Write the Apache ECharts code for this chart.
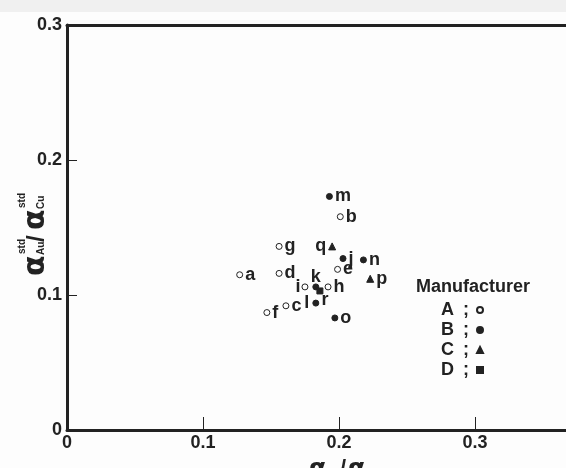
<!DOCTYPE html>
<html>
<head>
<meta charset="utf-8">
<script src="https://cdn.jsdelivr.net/npm/echarts@6/dist/echarts.min.js"></script>
<style>html,body{margin:0;padding:0;background:#fdfdfd;}#c{width:566px;height:468px;}</style>
</head>
<body>
<div id="c"></div>
<script>
// ---- data ----
const xTicks = [0, 0.1, 0.2, 0.3];
const yTicks = [0, 0.1, 0.2, 0.3];
const xMax = 0.367;   // right edge of the visible (cropped) x range
const manufacturers = ['A', 'B', 'C', 'D'];

const namesA = ['a', 'b', 'c', 'd', 'e', 'f', 'g', 'h', 'i'];
const xA = [0.127, 0.201, 0.161, 0.156, 0.199, 0.147, 0.156, 0.192, 0.175];
const yA = [0.115, 0.158, 0.092, 0.116, 0.119, 0.087, 0.136, 0.106, 0.106];

const namesB = ['j', 'k', 'l', 'm', 'n', 'o'];
const xB = [0.203, 0.183, 0.183, 0.193, 0.218, 0.197];
const yB = [0.127, 0.106, 0.094, 0.173, 0.126, 0.083];

const namesC = ['p', 'q'];
const xC = [0.223, 0.195];
const yC = [0.112, 0.136];

const namesD = ['r'];
const xD = [0.186];
const yD = [0.103];

// ---- styling (label placement per point) ----
const labelPlace = {
  i: {position: 'left', distance: 1},
  l: {position: 'left', distance: 3},
  q: {position: 'left', distance: 2},
  k: {position: 'top', distance: -3},
  r: {position: 'right', offset: [-4, 9]}
};

const INK = '#222222';
const FONT = '"Liberation Sans", Arial, sans-serif';

function pts(names, xs, ys) {
  return names.map((n, i) => {
    const p = {value: [xs[i], ys[i]], name: n};
    if (labelPlace[n]) p.label = Object.assign({}, labelPlace[n]);
    return p;
  });
}

const baseLabel = {
  show: true, position: 'right', distance: 2,
  formatter: p => p.name,
  color: INK, fontFamily: FONT, fontWeight: 'bold', fontSize: 18
};

function series(name, data, symbol, size, fill) {
  return {
    name: name, type: 'scatter', data: data, symbol: symbol, symbolSize: size,
    itemStyle: {color: fill, borderColor: INK, borderWidth: 1, opacity: 1},
    label: baseLabel, emphasis: {disabled: true}
  };
}

const chart = echarts.init(document.getElementById('c'), null, {renderer: 'canvas'});

const axisLabelStyle = {color: INK, fontFamily: FONT, fontWeight: 'bold', fontSize: 18};
const tickFmt = (list) => v => (list.indexOf(Math.round(v * 10) / 10) < 0 || (v > 0.3001) ? '' : (v === 0 ? '0' : v.toFixed(1)));

chart.setOption({
  backgroundColor: '#fdfdfd',
  animation: false,
  grid: {left: 67, right: 0, top: 25, bottom: 38},
  xAxis: [{
    type: 'value', min: 0, max: xMax, interval: 0.1,
    axisLine: {show: true, lineStyle: {color: INK, width: 3}},
    axisTick: {show: true, inside: true, length: 13, lineStyle: {color: INK, width: 1}},
    axisLabel: Object.assign({margin: 4, showMaxLabel: false, formatter: tickFmt(xTicks)}, axisLabelStyle),
    splitLine: {show: false}
  }, {
    type: 'value', position: 'top', min: 0, max: xMax,
    axisLine: {show: true, onZero: false, lineStyle: {color: INK, width: 3}},
    axisTick: {show: false}, axisLabel: {show: false}, splitLine: {show: false}
  }],
  yAxis: {
    type: 'value', min: 0, max: 0.3, interval: 0.1,
    axisLine: {show: true, lineStyle: {color: INK, width: 3}},
    axisTick: {show: true, inside: true, length: 10, lineStyle: {color: INK, width: 1}},
    axisLabel: Object.assign({margin: 5, formatter: tickFmt(yTicks)}, axisLabelStyle),
    splitLine: {show: false}
  },
  legend: {
    show: true, orient: 'vertical', left: 436, top: 296, align: 'right',
    itemWidth: 6, itemHeight: 6, itemGap: 2,
    data: [
      {name: 'A', icon: 'circle'},
      {name: 'B', icon: 'circle'},
      {name: 'C', icon: 'triangle'},
      {name: 'D', icon: 'rect'}
    ],
    formatter: n => '{n|' + n + '}{s|;}',
    textStyle: {
      color: INK, fontFamily: FONT, fontWeight: 'bold', fontSize: 18, lineHeight: 18,
      rich: {
        n: {width: 22, align: 'left', fontSize: 18, fontWeight: 'bold', fontFamily: FONT, color: INK},
        s: {width: 9, align: 'left', fontSize: 18, fontWeight: 'bold', fontFamily: FONT, color: INK}
      }
    },
    selectedMode: false
  },
  series: [
    series(manufacturers[0], pts(namesA, xA, yA), 'circle', 6, '#fdfdfd'),
    series(manufacturers[1], pts(namesB, xB, yB), 'circle', 6, INK),
    series(manufacturers[2], pts(namesC, xC, yC), 'triangle', 7, INK),
    series(manufacturers[3], pts(namesD, xD, yD), 'rect', 6, INK)
  ],
  graphic: [
    {type: 'rect', left: 0, top: 0, z: -10, shape: {width: 566, height: 12}, style: {fill: '#f0f0f0'}},
    {type: 'text', left: 416, top: 278, style: {text: 'Manufacturer', fill: INK, font: 'bold 18px ' + FONT}},
    // y-axis title (rotated)
    {
      type: 'group', x: 45, y: 276, rotation: Math.PI / 2,
      children: [
        {type: 'text', x: 0, y: -9, style: {text: 'α', fill: INK, font: 'bold 30px "DejaVu Sans"', verticalAlign: 'middle'}},
        {type: 'text', x: 21, y: -4, style: {text: 'Au', fill: INK, font: 'bold 10px ' + FONT, verticalAlign: 'middle'}},
        {type: 'text', x: 22, y: -23, style: {text: 'std', fill: INK, font: 'bold 10px ' + FONT, verticalAlign: 'middle'}},
        {type: 'text', x: 34, y: -8, style: {text: '/', fill: INK, font: 'bold 24px ' + FONT, verticalAlign: 'middle'}},
        {type: 'text', x: 46, y: -9, style: {text: 'α', fill: INK, font: 'bold 30px "DejaVu Sans"', verticalAlign: 'middle'}},
        {type: 'text', x: 67, y: -4, style: {text: 'Cu', fill: INK, font: 'bold 10px ' + FONT, verticalAlign: 'middle'}},
        {type: 'text', x: 68, y: -23, style: {text: 'std', fill: INK, font: 'bold 10px ' + FONT, verticalAlign: 'middle'}}
      ]
    },
    // x-axis title
    {
      type: 'group', x: 309, y: 476,
      children: [
        {type: 'text', x: 0, y: -7, style: {text: 'α', fill: INK, font: 'bold 25px "DejaVu Sans"', verticalAlign: 'middle'}},
        {type: 'text', x: 18, y: -3, style: {text: 'Au', fill: INK, font: 'bold 11px ' + FONT, verticalAlign: 'middle'}},
        {type: 'text', x: 31, y: -7, style: {text: '/', fill: INK, font: 'bold 22px ' + FONT, verticalAlign: 'middle'}},
        {type: 'text', x: 39, y: -7, style: {text: 'α', fill: INK, font: 'bold 25px "DejaVu Sans"', verticalAlign: 'middle'}},
        {type: 'text', x: 57, y: -3, style: {text: 'Cu', fill: INK, font: 'bold 11px ' + FONT, verticalAlign: 'middle'}}
      ]
    }
  ]
});
</script>
</body>
</html>
